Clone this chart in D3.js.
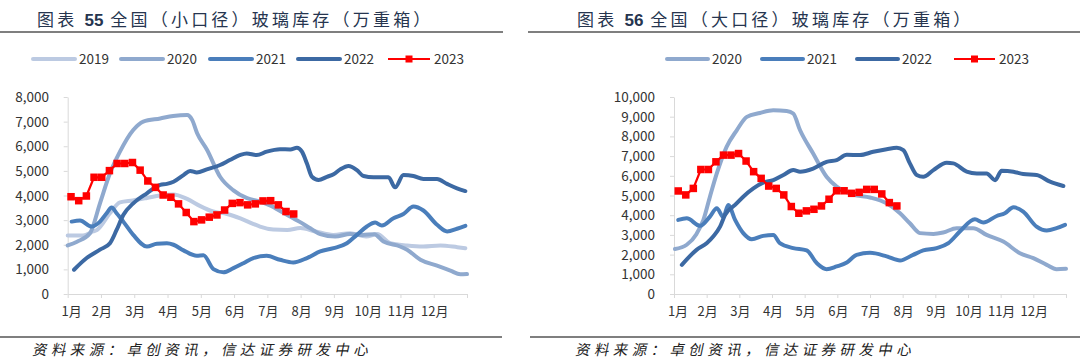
<!DOCTYPE html>
<html>
<head>
<meta charset="utf-8">
<script src="https://cdn.jsdelivr.net/npm/d3@7"></script>
<style>
body{margin:0;background:#fff;}
svg{display:block;font-family:"Noto Sans CJK SC","Liberation Sans",sans-serif;}
</style>
</head>
<body>
<svg id="chart" width="1080" height="363"></svg>
<script>
// month labels on the x axis
const months = ["1月","2月","3月","4月","5月","6月","7月","8月","9月","10月","11月","12月"];

// ---- chart 55: small-diameter glass inventory, [month position, value] ----
const small2019 = [[0,2375],[0.46,2375],[0.76,2540],[0.88,2600],[1.27,3280],[1.57,3720],[1.96,3800],[2.38,3900],[2.78,4000],[3.17,4040],[3.59,3860],[3.97,3580],[4.37,3350],[4.79,3250],[5.19,3070],[5.57,2850],[5.78,2740],[6.18,2620],[6.6,2600],[6.99,2680],[7.45,2540],[7.98,2400],[8.49,2470],[8.97,2330],[9.3,2440],[9.69,2065],[10.2,1970],[10.68,1930],[11.2,1970],[11.71,1900],[11.95,1860]];
const small2020 = [[0,1970],[0.28,2125],[0.67,2465],[0.97,3680],[1.27,4900],[1.57,5780],[1.97,6660],[2.27,7000],[2.78,7130],[3.17,7230],[3.59,7270],[3.74,7070],[3.89,6530],[4.19,5850],[4.58,4760],[4.97,4220],[5.39,3890],[5.78,3750],[6.08,3600],[6.48,3300],[6.96,2940],[7.29,2670],[7.59,2430],[8.04,2330],[8.49,2440],[8.85,2400],[9.21,2430],[9.49,2130],[9.99,1930],[10.2,1795],[10.6,1390],[11.1,1150],[11.5,950],[11.8,800],[12,810]];
const small2021 = [[0.12,2940],[0.37,2980],[0.72,2740],[0.97,2940],[1.17,3280],[1.32,3510],[1.47,3280],[1.67,2940],[1.97,2400],[2.38,1930],[2.68,2040],[2.98,2060],[3.18,2000],[3.48,1770],[3.88,1550],[4.08,1570],[4.38,1010],[4.68,880],[4.98,1050],[5.28,1250],[5.58,1460],[5.98,1550],[6.38,1390],[6.78,1280],[7.19,1460],[7.59,1730],[7.99,1860],[8.39,2060],[8.69,2400],[8.99,2740],[9.24,2900],[9.44,2780],[9.79,3080],[10.09,3250],[10.39,3550],[10.69,3390],[11.1,2810],[11.4,2540],[11.7,2650],[11.95,2770]];
const small2022 = [[0.19,985],[0.57,1460],[0.97,1800],[1.27,2060],[1.47,2600],[1.67,3210],[1.97,3680],[2.38,4090],[2.78,4430],[2.98,4470],[3.18,4560],[3.48,4830],[3.68,5000],[3.88,4930],[4.18,5060],[4.58,5240],[4.87,5440],[5.17,5640],[5.38,5710],[5.68,5640],[5.98,5780],[6.38,5880],[6.69,5870],[6.89,5940],[7.04,5780],[7.19,5300],[7.34,4760],[7.54,4630],[7.79,4760],[7.99,4860],[8.19,5060],[8.44,5200],[8.69,5030],[8.89,4790],[9.19,4740],[9.64,4740],[9.84,4330],[10.09,4830],[10.39,4790],[10.69,4670],[11.1,4670],[11.4,4470],[11.7,4290],[11.95,4180]];
// 2023 is weekly, first week at month position small2023Start
const small2023Start = 0.1;
const small2023 = [3950,3790,3980,4740,4740,5010,5300,5300,5340,5030,4590,4330,4020,3930,3660,3310,2940,3010,3120,3210,3410,3680,3710,3620,3660,3780,3790,3620,3350,3250];

// ---- chart 56: large-diameter glass inventory ----
const large2020 = [[0.03,2280],[0.39,2500],[0.69,3050],[0.9,3760],[1.1,4940],[1.31,6120],[1.61,7470],[1.92,8310],[2.23,8990],[2.63,9190],[3.04,9330],[3.45,9290],[3.65,9160],[3.86,8310],[4.26,7130],[4.67,5950],[4.98,5450],[5.49,5050],[6,4900],[6.51,4600],[6.92,4100],[7.22,3590],[7.53,3090],[7.94,3050],[8.24,3120],[8.65,3340],[9.16,3340],[9.57,3000],[10.08,2660],[10.59,2070],[11,1820],[11.41,1480],[11.71,1260],[12,1280]];
const large2021 = [[0.13,3760],[0.39,3840],[0.8,3460],[1.1,3930],[1.31,4350],[1.51,3900],[1.66,4520],[1.87,3760],[2.12,3090],[2.38,2780],[2.73,2950],[3.04,3000],[3.24,2580],[3.65,2330],[4.06,2210],[4.37,1570],[4.67,1260],[4.98,1400],[5.29,1600],[5.59,1990],[6,2090],[6.51,1910],[6.92,1700],[7.32,1990],[7.63,2210],[8.04,2330],[8.4,2580],[8.75,3170],[9.21,3790],[9.47,3630],[9.88,3960],[10.13,4100],[10.39,4400],[10.69,4180],[11.1,3420],[11.41,3220],[11.71,3340],[11.97,3510]];
const large2022 = [[0.24,1480],[0.69,2240],[1,2580],[1.2,2920],[1.41,3420],[1.56,4010],[1.87,4520],[2.12,4940],[2.43,5360],[2.73,5650],[3.04,5780],[3.35,6040],[3.65,6290],[3.86,6210],[4.26,6370],[4.67,6710],[4.98,6800],[5.29,7070],[5.69,7050],[6.1,7220],[6.51,7350],[6.82,7420],[7.02,7300],[7.22,6630],[7.43,6040],[7.63,5950],[7.94,6290],[8.35,6660],[8.55,6630],[8.96,6210],[9.27,6120],[9.57,6120],[9.83,5780],[10.03,6260],[10.39,6210],[10.69,6090],[11.1,6040],[11.51,5700],[11.92,5480]];
const large2023Start = 0.13;
const large2023 = [5230,5030,5360,6320,6320,6710,7050,7050,7130,6750,6210,5870,5480,5360,5030,4440,4100,4220,4300,4470,4810,5240,5240,5110,5160,5310,5310,5080,4640,4470];

const weekStep = 12 / 52;
const colors = {"2019":"#BCCAE2","2020":"#8FA9CE","2021":"#4A7EBB","2022":"#3C69A3","2023":"#FF0000"};

const weekly = (start, vals) => vals.map((v, i) => [start + i * weekStep, v]);

const panels = [
	{
		title: ["图表 ", "55", " 全国（小口径）玻璃库存（万重箱）"],
		titleX: 37, ruleTop: [0, 503], ruleBottom: [0, 502], sourceX: 32,
		xRange: [67.7, 467], yMax: 8000, labelX: 49,
		legendX: [31, 119, 208, 296, 386], legendLen: 46,
		series: [
			{name: "2019", data: small2019},
			{name: "2020", data: small2020},
			{name: "2021", data: small2021},
			{name: "2022", data: small2022},
			{name: "2023", data: weekly(small2023Start, small2023)}
		]
	},
	{
		title: ["图表 ", "56", " 全国（大口径）玻璃库存（万重箱）"],
		titleX: 577, ruleTop: [528, 1080], ruleBottom: [530, 1080], sourceX: 575,
		xRange: [674, 1066], yMax: 10000, labelX: 655,
		legendX: [665, 760, 855, 952], legendLen: 45,
		series: [
			{name: "2020", data: large2020},
			{name: "2021", data: large2021},
			{name: "2022", data: large2022},
			{name: "2023", data: weekly(large2023Start, large2023)}
		]
	}
];

const svg = d3.select("#chart");
const plotTop = 97, plotBottom = 294;

const drawPanel = (p) => {
	const g = svg.append("g");

	// title + rules
	const t = g.append("text")
		.attr("x", p.titleX).attr("y", 26)
		.attr("fill", "#26354F")
		.style("font-size", "17px")
		.style("letter-spacing", "3.2px");
	t.append("tspan").text(p.title[0]);
	t.append("tspan").text(p.title[1])
		.style("font-family", "'Liberation Sans', Arial, sans-serif")
		.style("font-weight", "bold").style("letter-spacing", "0px");
	t.append("tspan").text(p.title[2]);

	g.append("line").attr("x1", p.ruleTop[0]).attr("x2", p.ruleTop[1])
		.attr("y1", 32).attr("y2", 32).attr("stroke", "#555").attr("stroke-width", 1.5);
	g.append("line").attr("x1", p.ruleBottom[0]).attr("x2", p.ruleBottom[1])
		.attr("y1", 337).attr("y2", 337).attr("stroke", "#555").attr("stroke-width", 1.5);

	g.append("text")
		.attr("transform", `translate(${p.sourceX},355) skewX(-12)`)
		.attr("fill", "#222")
		.style("font-size", "14.5px")
		.style("letter-spacing", "4.4px")
		.text("资料来源：卓创资讯，信达证券研发中心");

	const x = d3.scaleLinear().domain([0, 12]).range(p.xRange);
	const y = d3.scaleLinear().domain([0, p.yMax]).range([plotBottom, plotTop]);

	// y axis
	const yAxis = g.append("g")
		.attr("transform", `translate(${p.xRange[0]},0)`)
		.call(d3.axisLeft(y).tickValues(d3.range(0, p.yMax + 1, 1000))
			.tickSize(4).tickSizeOuter(0).tickFormat(""));
	yAxis.selectAll("path, line").attr("stroke", "#D9D9D9");

	g.selectAll(".ylab").data(d3.range(0, p.yMax + 1, 1000)).enter()
		.append("text").attr("class", "ylab")
		.attr("x", p.labelX).attr("y", d => y(d) + 5)
		.attr("text-anchor", "end").attr("fill", "#333")
		.style("font-size", "13.5px")
		.text(d => d3.format(",")(d));

	// x axis
	const xAxis = g.append("g")
		.attr("transform", `translate(0,${plotBottom})`)
		.call(d3.axisBottom(x).tickValues(d3.range(0, 13)).tickSize(4).tickSizeOuter(0).tickFormat(""));
	xAxis.selectAll("path, line").attr("stroke", "#D9D9D9");

	g.selectAll(".xlab").data(months).enter()
		.append("text").attr("class", "xlab")
		.attr("x", (d, i) => x(i) + (i === 0 ? 4 : 1))
		.attr("y", 316)
		.attr("text-anchor", "middle").attr("fill", "#333")
		.style("font-size", "13px")
		.text(d => d);

	// lines
	const line = d3.line().x(d => x(d[0])).y(d => y(d[1]));
	p.series.forEach(s => {
		const isNew = s.name === "2023";
		g.append("path").datum(s.data)
			.attr("fill", "none")
			.attr("stroke", colors[s.name])
			.attr("stroke-width", isNew ? 2.2 : 4)
			.attr("stroke-linecap", "round").attr("stroke-linejoin", "round")
			.attr("d", line.curve(isNew ? d3.curveLinear : d3.curveMonotoneX));
		if (isNew) {
			g.selectAll(".mk" + p.titleX).data(s.data).enter()
				.append("rect")
				.attr("x", d => x(d[0]) - 3.75).attr("y", d => y(d[1]) - 3.75)
				.attr("width", 7.5).attr("height", 7.5)
				.attr("fill", colors[s.name]);
		}
	});

	// legend
	p.series.forEach((s, i) => {
		const lx = p.legendX[i], ly = 59;
		const isNew = s.name === "2023";
		g.append("line")
			.attr("x1", lx + 2).attr("x2", lx + p.legendLen - 2)
			.attr("y1", ly).attr("y2", ly)
			.attr("stroke", colors[s.name])
			.attr("stroke-width", isNew ? 2 : 4)
			.attr("stroke-linecap", isNew ? "butt" : "round");
		if (isNew) {
			g.append("rect")
				.attr("x", lx + p.legendLen / 2 - 3.5).attr("y", ly - 3.5)
				.attr("width", 7).attr("height", 7).attr("fill", colors[s.name]);
		}
		g.append("text")
			.attr("x", lx + p.legendLen + 2).attr("y", ly + 5)
			.attr("fill", "#333").style("font-size", "13.5px")
			.text(s.name);
	});
};

panels.forEach(drawPanel);
</script>
</body>
</html>
